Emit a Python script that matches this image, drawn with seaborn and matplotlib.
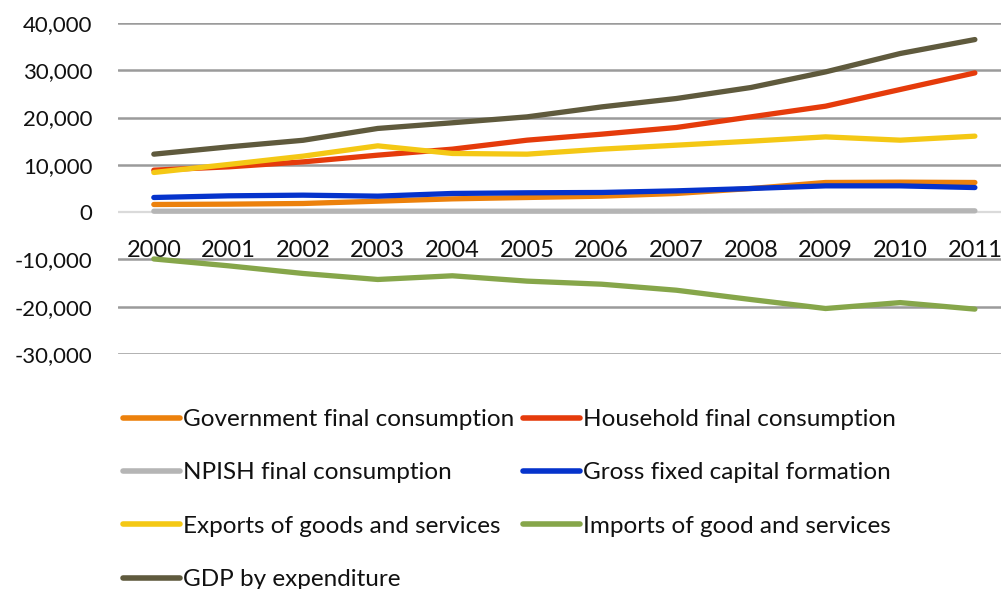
import matplotlib
matplotlib.use("Agg")
import matplotlib.pyplot as plt
import matplotlib.ticker as mticker
import pandas as pd
import seaborn as sns

years = ["2000", "2001", "2002", "2003", "2004", "2005",
         "2006", "2007", "2008", "2009", "2010", "2011"]

government = [1620, 1690, 1830, 2320, 2810, 3100, 3380, 3950, 5000, 6270, 6340, 6270]
household = [8880, 9580, 10630, 12050, 13320, 15220, 16490, 17900, 20150, 22410, 25940, 29450]
npish = [200, 200, 200, 200, 200, 200, 200, 220, 250, 280, 280, 280]
gross_fixed = [3100, 3450, 3590, 3380, 3950, 4090, 4160, 4500, 5000, 5560, 5560, 5200]
exports = [8390, 10080, 11840, 14020, 12410, 12260, 13320, 14160, 15010, 15920, 15220, 16070]
imports = [-9900, -11350, -12970, -14240, -13460, -14590, -15240, -16510, -18480, -20380, -19130, -20510]
gdp = [12260, 13800, 15200, 17700, 18900, 20150, 22260, 24030, 26360, 29660, 33550, 36500]

series_names = [
    "Government final consumption",
    "Household final consumption",
    "NPISH final consumption",
    "Gross fixed capital formation",
    "Exports of goods and services",
    "Imports of good and services",
    "GDP by expenditure",
]
series_values = [government, household, npish, gross_fixed, exports, imports, gdp]
series_colors = ["#EC810C", "#E53B0B", "#B5B5B5", "#0533CC", "#F4C815", "#86A64A", "#5F5A3D"]

records = []
for name, vals in zip(series_names, series_values):
    for i, (yr, v) in enumerate(zip(years, vals)):
        records.append({"idx": i, "year": yr, "series": name, "value": v})
df = pd.DataFrame(records)

sns.set_theme(style="white")
plt.rcParams["font.family"] = ["Lato", "DejaVu Sans"]
plt.rcParams["axes.unicode_minus"] = False

W, H = 1001, 589
fig = plt.figure(figsize=(W / 100, H / 100), dpi=100)
ax_left, ax_right, ax_top, ax_bottom = 118, 1001, 23, 354
ax = fig.add_axes([ax_left / W, 1 - ax_bottom / H,
                   (ax_right - ax_left) / W, (ax_bottom - ax_top) / H])

# horizontal gridlines
for yv in range(-30000, 40001, 10000):
    if yv == 0:
        continue
    ax.axhline(yv, color="#9B9B9B", lw=1.8, zorder=0)
ax.axhline(0, color="#DADADA", lw=1.6, zorder=0)

sns.lineplot(data=df, x="idx", y="value", hue="series", hue_order=series_names,
             palette=series_colors, linewidth=3.8, ax=ax, legend=True,
             solid_capstyle="round", sort=False)

ax.set_xlim(-0.48, 11.35)
ax.set_ylim(-30000, 40000)
ax.set_yticks(range(-30000, 40001, 10000))
ax.yaxis.set_major_formatter(mticker.FuncFormatter(lambda v, p: f"{int(v):,}"))
ax.tick_params(axis="y", labelsize=16, pad=18.5, length=0, colors="#111111")
ax.set_xticks(range(len(years)))
ax.set_xticklabels(years)
ax.spines["bottom"].set_position(("data", 0))
ax.tick_params(axis="x", labelsize=17, pad=20, length=0, colors="#111111")
for s in ax.spines.values():
    s.set_visible(False)
ax.set_xlabel("")
ax.set_ylabel("")

handles, labels = ax.get_legend_handles_labels()
ax.get_legend().remove()
lookup = dict(zip(labels, handles))
order = [0, 2, 4, 6, 1, 3, 5]
ordered = [series_names[i] for i in order]
leg = fig.legend([lookup[n] for n in ordered], ordered, ncol=2,
                 loc="upper left", bbox_to_anchor=(123 / W, 1 - 409 / H),
                 frameon=False, fontsize=17.5, handlelength=2.35, handletextpad=0.12,
                 columnspacing=0.37, labelspacing=1.33, borderpad=0, borderaxespad=0)
for text in leg.get_texts():
    text.set_color("#111111")
for line in leg.get_lines():
    line.set_linewidth(4)
    line.set_solid_capstyle("round")

fig.savefig("out.png", dpi=100)
